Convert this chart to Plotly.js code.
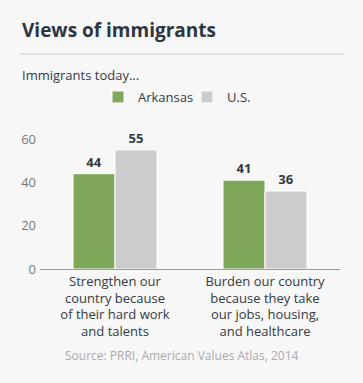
<!DOCTYPE html>
<html>
<head>
<meta charset="utf-8">
<script src="https://cdn.plot.ly/plotly-3.0.1.min.js"></script>
<style>
html,body{margin:0;padding:0;background:#f7f7f7;}
#chart{width:363px;height:383px;}
</style>
</head>
<body>
<div id="chart"></div>
<script>
const categories = ["Strengthen our<br>country because<br>of their hard work<br>and talents", "Burden our country<br>because they take<br>our jobs, housing,<br>and healthcare"];
const seriesNames = ["Arkansas", "U.S."];
const arkansas = [44, 41];
const us = [55, 36];
const yTicks = [0, 20, 40, 60];

const font = "'Open Sans', sans-serif";
const textCol = "#333a44";

function barTrace(name, vals, color) {
  return {
    type: "bar", name: name, x: [0, 1], y: vals,
    marker: {color: color, line: {color: "#ffffff", width: 1}},
    text: vals.map(String), textposition: "outside", cliponaxis: false,
    textfont: {family: font, size: 13, color: textCol, weight: "bold"},
    hoverinfo: "none"
  };
}

const data = [
  barTrace(seriesNames[0], arkansas, "#80a85a"),
  barTrace(seriesNames[1], us, "#cccccc")
];

const layout = {
  width: 363, height: 383,
  margin: {l: 40, r: 23, t: 139, b: 114},
  paper_bgcolor: "#f7f7f7", plot_bgcolor: "#f7f7f7",
  font: {family: font, size: 13, color: textCol},
  barmode: "group", bargap: 0.44, bargroupgap: 0.0,
  showlegend: true,
  legend: {orientation: "h", x: 0.49, xanchor: "center", y: 1.323, yanchor: "middle",
           font: {family: font, size: 13, color: textCol}, itemwidth: 30, tracegroupgap: 0,
           entrywidth: 44, entrywidthmode: "pixels",
           bgcolor: "rgba(0,0,0,0)"},
  xaxis: {
    tickvals: [0, 1], ticktext: categories, range: [-0.5, 1.5],
    showline: true, linecolor: "#9a9a9a", linewidth: 1, showgrid: false, zeroline: false,
    ticks: "", tickfont: {family: font, size: 13, color: textCol}, fixedrange: true
  },
  yaxis: {
    range: [0, 60], tickvals: yTicks, ticktext: yTicks.map(String),
    showgrid: false, zeroline: false, showline: false, ticks: "",
    tickfont: {family: font, size: 13, color: "#777777"}, ticklabelstandoff: 3, fixedrange: true
  },
  annotations: [
    {text: "<b>Views of immigrants</b>", xref: "paper", yref: "paper", x: -20/300, y: (269-30)/130,
     xanchor: "left", yanchor: "middle", showarrow: false,
     font: {family: font, size: 19, color: "#2d3640"}},
    {text: "Immigrants today...", xref: "paper", yref: "paper", x: -20/300, y: (269-75)/130,
     xanchor: "left", yanchor: "middle", showarrow: false,
     font: {family: font, size: 13, color: textCol}},
    {text: "Source: PRRI, American Values Atlas, 2014", xref: "paper", yref: "paper", x: (182-40)/300, y: (269-355)/130,
     xanchor: "center", yanchor: "middle", showarrow: false,
     font: {family: font, size: 12, color: "#aaaaaa"}}
  ],
  shapes: [
    {type: "line", xref: "paper", yref: "paper", x0: -20/300, x1: 305/300, y0: (269-54)/130, y1: (269-54)/130,
     line: {color: "#cccccc", width: 1}}
  ]
};

Plotly.newPlot("chart", data, layout, {displayModeBar: false, staticPlot: true});
</script>
</body>
</html>
